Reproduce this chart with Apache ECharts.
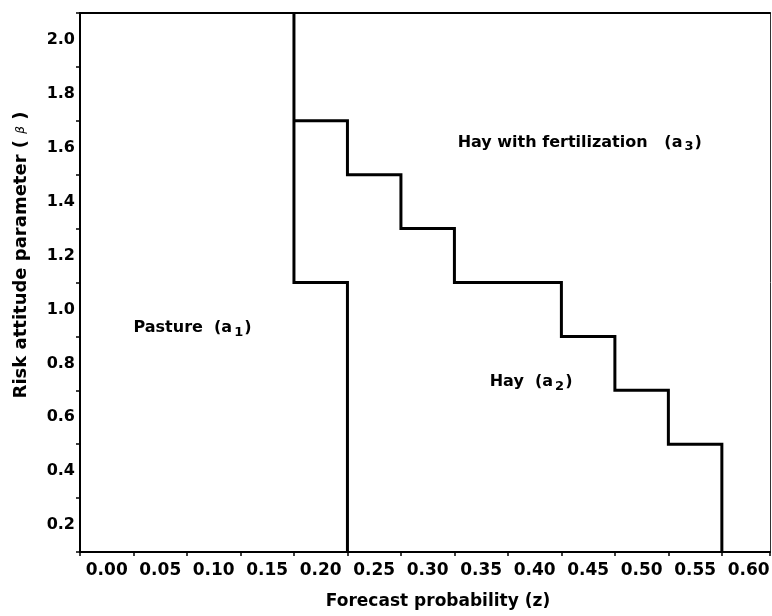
<!DOCTYPE html>
<html>
<head>
<meta charset="utf-8">
<script src="https://cdn.jsdelivr.net/npm/echarts@6/dist/echarts.min.js"></script>
<style>
  html, body { margin: 0; padding: 0; background: #fff; }
  #chart { width: 772px; height: 616px; }
</style>
</head>
<body>
<div id="chart"></div>
<script>
// tick labels
const zTickLabels = [0.00, 0.05, 0.10, 0.15, 0.20, 0.25, 0.30, 0.35, 0.40, 0.45, 0.50, 0.55, 0.60]
const betaTickLabels = [0.2, 0.4, 0.6, 0.8, 1.0, 1.2, 1.4, 1.6, 1.8, 2.0]

// boundary between pasture (a1) and hay (a2)
const pastureEdgeZ = [0.175, 0.175, 0.225, 0.225]
const pastureEdgeBeta = [2.1, 1.1, 1.1, 0.1]

// boundary between hay (a2) and hay with fertilization (a3), drawn as steps
const fertEdgeZ = [0.175, 0.225, 0.275, 0.325, 0.425, 0.475, 0.525, 0.575]
const fertEdgeBeta = [1.7, 1.5, 1.3, 1.1, 0.9, 0.7, 0.5, 0.1]

// region labels
const regionNames = ['Pasture', 'Hay', 'Hay with fertilization']
const regionSubs = ['1', '2', '3']
const regionZ = [0.025, 0.358, 0.328]
const regionBeta = [0.93, 0.73, 1.62]

const FONT = 'DejaVu Sans'
const black = '#000'

const zip = (a, b) => a.map((v, i) => [v, b[i]])
const isIn = (list, v, d) => list.some(t => Math.abs(t - v) < d)

const chart = echarts.init(document.getElementById('chart'))
chart.setOption({
  backgroundColor: '#fff',
  animation: false,
  grid: {
    left: 80, top: 13, right: 2, bottom: 64,
    containLabel: false,
    outerBoundsMode: 'none'
  },
  xAxis: [
    {
      type: 'value', min: -0.025, max: 0.62, interval: 0.025,
      axisLine: { show: true, onZero: false, lineStyle: { color: black, width: 2 } },
      axisTick: { show: false },
      splitLine: { show: false },
      axisLabel: {
        color: black, fontFamily: FONT, fontWeight: 'bold', fontSize: 17, margin: 10,
        showMinLabel: true, showMaxLabel: true, hideOverlap: false,
        formatter: v => isIn(zTickLabels, v, 1e-6) && v > -1e-6 ? Math.abs(v).toFixed(2) : ''
      },
      name: 'Forecast probability (z)',
      nameLocation: 'middle',
      nameGap: 41,
      nameTextStyle: { color: black, fontFamily: FONT, fontWeight: 'bold', fontSize: 17, padding: [0, 0, 0, 26] }
    },
    {
      type: 'value', position: 'bottom', min: -0.025, max: 0.62, interval: 0.05,
      axisLine: { show: false, onZero: false },
      axisTick: { show: true, length: 4, lineStyle: { color: black, width: 1.5 } },
      axisLabel: { show: false },
      splitLine: { show: false }
    },
    {
      type: 'value', position: 'top', min: -0.025, max: 0.62,
      axisLine: { show: true, onZero: false, lineStyle: { color: black, width: 2 } },
      axisTick: { show: false },
      axisLabel: { show: false },
      splitLine: { show: false }
    }
  ],
  yAxis: [
    {
      type: 'value', min: 0.1, max: 2.1, interval: 0.1,
      axisLine: { show: true, onZero: false, lineStyle: { color: black, width: 2 } },
      axisTick: { show: false },
      splitLine: { show: false },
      axisLabel: {
        color: black, fontFamily: FONT, fontWeight: 'bold', fontSize: 16, margin: 5,
        formatter: v => isIn(betaTickLabels, v, 1e-6) ? v.toFixed(1) : ''
      }
    },
    {
      type: 'value', position: 'left', min: 0.1, max: 2.1, interval: 0.2,
      axisLine: { show: false, onZero: false },
      axisTick: { show: true, length: 4, lineStyle: { color: black, width: 1.5 } },
      axisLabel: { show: false },
      splitLine: { show: false }
    },
    {
      type: 'value', position: 'right', min: 0.1, max: 2.1,
      axisLine: { show: true, onZero: false, lineStyle: { color: '#333', width: 1 } },
      axisTick: { show: false },
      axisLabel: { show: false },
      splitLine: { show: false }
    }
  ],
  graphic: [
    {
      type: 'text',
      x: 21, y: 255,
      rotation: Math.PI / 2,
      style: {
        text: 'Risk attitude parameter ( {b|β} )',
        fill: black, fontFamily: FONT, fontWeight: 'bold', fontSize: 18,
        align: 'center', verticalAlign: 'middle',
        rich: { b: { fontStyle: 'italic', fontWeight: 'normal', fontSize: 12, fontFamily: FONT, fill: black } }
      }
    }
  ],
  series: [
    {
      type: 'line', xAxisIndex: 0, yAxisIndex: 0,
      data: zip(pastureEdgeZ, pastureEdgeBeta),
      symbol: 'none',
      lineStyle: { color: black, width: 3, join: 'miter' }
    },
    {
      type: 'line', xAxisIndex: 0, yAxisIndex: 0,
      step: 'end',
      data: zip(fertEdgeZ, fertEdgeBeta),
      symbol: 'none',
      lineStyle: { color: black, width: 3, join: 'miter' }
    },
    {
      type: 'scatter', xAxisIndex: 0, yAxisIndex: 0,
      symbolSize: 0,
      itemStyle: { opacity: 1, color: black },
      data: regionNames.map((n, i) => ({ name: n, value: [regionZ[i], regionBeta[i]] })),
      label: {
        show: true, position: 'right', distance: 0, color: black,
        formatter: p => {
          const i = p.dataIndex
          const gap = i === 2 ? '   ' : '  '
          return '{t|' + regionNames[i] + gap + '(a}{s|' + regionSubs[i] + '}{t|)}'
        },
        rich: {
          t: { color: black, fontFamily: FONT, fontWeight: 'bold', fontSize: 16, lineHeight: 22 },
          s: { color: black, fontFamily: FONT, fontWeight: 'bold', fontSize: 13, padding: [9, 1, 0, 2], lineHeight: 22 }
        }
      },
      emphasis: { disabled: true }
    }
  ]
})
</script>
</body>
</html>
